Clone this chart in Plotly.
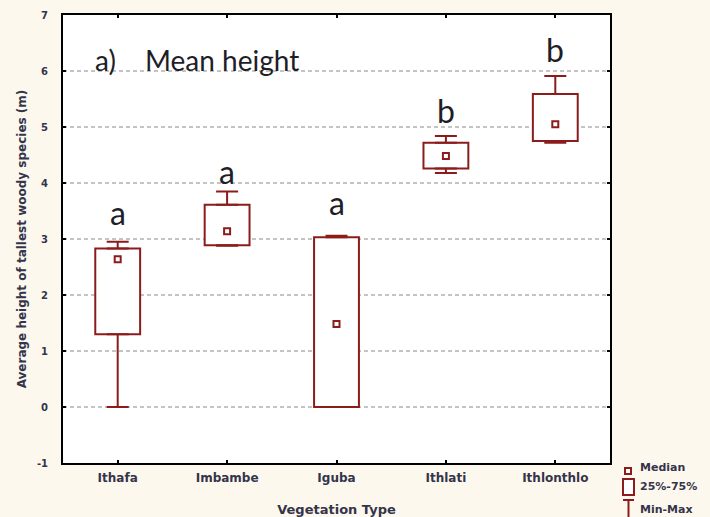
import plotly.graph_objects as go

# Tallest woody species height by vegetation type (m)
veg_types = ["Ithafa", "Imbambe", "Iguba", "Ithlati", "Ithlonthlo"]
h_min = [0.0, 2.88, 0.0, 4.18, 4.72]
h_q1 = [1.30, 2.89, 0.0, 4.26, 4.75]
h_median = [2.64, 3.14, 1.48, 4.48, 5.05]
h_q3 = [2.83, 3.61, 3.03, 4.72, 5.59]
h_max = [2.95, 3.85, 3.06, 4.84, 5.91]
group_letters = ["a", "a", "a", "b", "b"]
y_ticks = [-1, 0, 1, 2, 3, 4, 5, 6, 7]

# styling
RED = "#8c1c1c"
TXT = "#34344a"
PAPER = "#fdf8ee"
letter_gap_px = [17, 7, 21, 13, 14]

W, H = 710, 517
ML, MR, MT, MB = 63, 100, 15, 54
PW, PH = W - ML - MR, H - MT - MB


def px_x(px):
    return (px - ML) / PW


def px_y(py):
    return (H - MB - py) / PH


xs = list(range(len(veg_types)))

fig = go.Figure()

# 25%-75% boxes
fig.add_trace(go.Bar(
    x=xs,
    y=[q3 - q1 for q1, q3 in zip(h_q1, h_q3)],
    base=h_q1,
    width=0.41,
    marker=dict(color="white", line=dict(color=RED, width=2)),
    showlegend=False,
    hoverinfo="skip",
))

# upper whiskers (q3 -> max)
fig.add_trace(go.Scatter(
    x=xs, y=h_q3, mode="markers",
    marker=dict(size=1, color="rgba(0,0,0,0)"),
    error_y=dict(type="data", symmetric=False,
                 array=[mx - q3 for mx, q3 in zip(h_max, h_q3)],
                 arrayminus=[0] * len(xs),
                 color=RED, thickness=2, width=11),
    showlegend=False, hoverinfo="skip",
))

# lower whiskers (min -> q1)
fig.add_trace(go.Scatter(
    x=xs, y=h_q1, mode="markers",
    marker=dict(size=1, color="rgba(0,0,0,0)"),
    error_y=dict(type="data", symmetric=False,
                 array=[0] * len(xs),
                 arrayminus=[q1 - mn for mn, q1 in zip(h_min, h_q1)],
                 color=RED, thickness=2, width=11),
    showlegend=False, hoverinfo="skip",
))

# medians
fig.add_trace(go.Scatter(
    x=xs, y=h_median, mode="markers",
    marker=dict(symbol="square-open", size=6, color=RED,
                line=dict(width=2, color=RED)),
    showlegend=False, hoverinfo="skip",
))

annotations = []
# group letters above whiskers
for i, (letter, mx, gap) in enumerate(zip(group_letters, h_max, letter_gap_px)):
    annotations.append(dict(
        x=i, y=mx, xref="x", yref="y", text=letter, showarrow=False,
        xanchor="center", yanchor="bottom", yshift=gap - 9,
        font=dict(family="Lato", size=32, color="#1e1e28"),
    ))

# panel title
annotations.append(dict(
    x=px_x(93), y=px_y(60), xref="paper", yref="paper", text="a)",
    showarrow=False, xanchor="left", yanchor="middle",
    font=dict(family="Lato", size=28, color="#1e1e28"),
))
annotations.append(dict(
    x=px_x(143), y=px_y(60), xref="paper", yref="paper", text="Mean height",
    showarrow=False, xanchor="left", yanchor="middle",
    font=dict(family="Lato", size=28, color="#1e1e28"),
))

# legend entries
legend_font = dict(family="DejaVu Sans", size=11, color=TXT, weight="bold")
for label, py in [("Median", 467), ("25%-75%", 486), ("Min-Max", 509)]:
    annotations.append(dict(
        x=px_x(638), y=px_y(py), xref="paper", yref="paper", text=label,
        showarrow=False, xanchor="left", yanchor="middle", font=legend_font,
    ))

shapes = [
    # median symbol
    dict(type="rect", xref="paper", yref="paper",
         x0=px_x(625), x1=px_x(631), y0=px_y(474), y1=px_y(468),
         line=dict(color=RED, width=2), fillcolor="white"),
    # box symbol
    dict(type="rect", xref="paper", yref="paper",
         x0=px_x(623), x1=px_x(634), y0=px_y(495), y1=px_y(479),
         line=dict(color=RED, width=2), fillcolor="white"),
    # whisker symbol
    dict(type="line", xref="paper", yref="paper",
         x0=px_x(623), x1=px_x(634), y0=px_y(500), y1=px_y(500),
         line=dict(color=RED, width=2)),
    dict(type="line", xref="paper", yref="paper",
         x0=px_x(628.5), x1=px_x(628.5), y0=px_y(500), y1=px_y(518),
         line=dict(color=RED, width=2)),
]

axis_common = dict(
    showline=True, linecolor="black", linewidth=2, mirror="ticks",
    ticks="inside", ticklen=3, tickwidth=2, tickcolor="black",
    zeroline=False, automargin=False,
)

fig.update_layout(
    width=W, height=H,
    margin=dict(l=ML, r=MR, t=MT, b=MB, autoexpand=False),
    paper_bgcolor=PAPER,
    plot_bgcolor="white",
    showlegend=False,
    annotations=annotations,
    shapes=shapes,
    xaxis=dict(
        range=[-0.5, 4.5], tickvals=xs, ticktext=veg_types,
        showgrid=False, ticklabelstandoff=3,
        tickfont=dict(family="DejaVu Sans", size=12, color=TXT, weight="bold"),
        title=dict(text="Vegetation Type", standoff=24,
                   font=dict(family="DejaVu Sans", size=13, color=TXT, weight="bold")),
        **axis_common,
    ),
    yaxis=dict(
        range=[-1, 7], tickvals=y_ticks, ticktext=[str(v) for v in y_ticks],
        showgrid=True, gridcolor="#c4c4c4", gridwidth=1.5, griddash="4px,3px",
        ticklabelstandoff=11,
        tickfont=dict(family="DejaVu Sans", size=10, color=TXT, weight="bold"),
        title=dict(text="Average height of tallest woody species (m)", standoff=8,
                   font=dict(family="DejaVu Sans", size=12, color=TXT, weight="bold")),
        **axis_common,
    ),
)

fig.write_html("out.html")
